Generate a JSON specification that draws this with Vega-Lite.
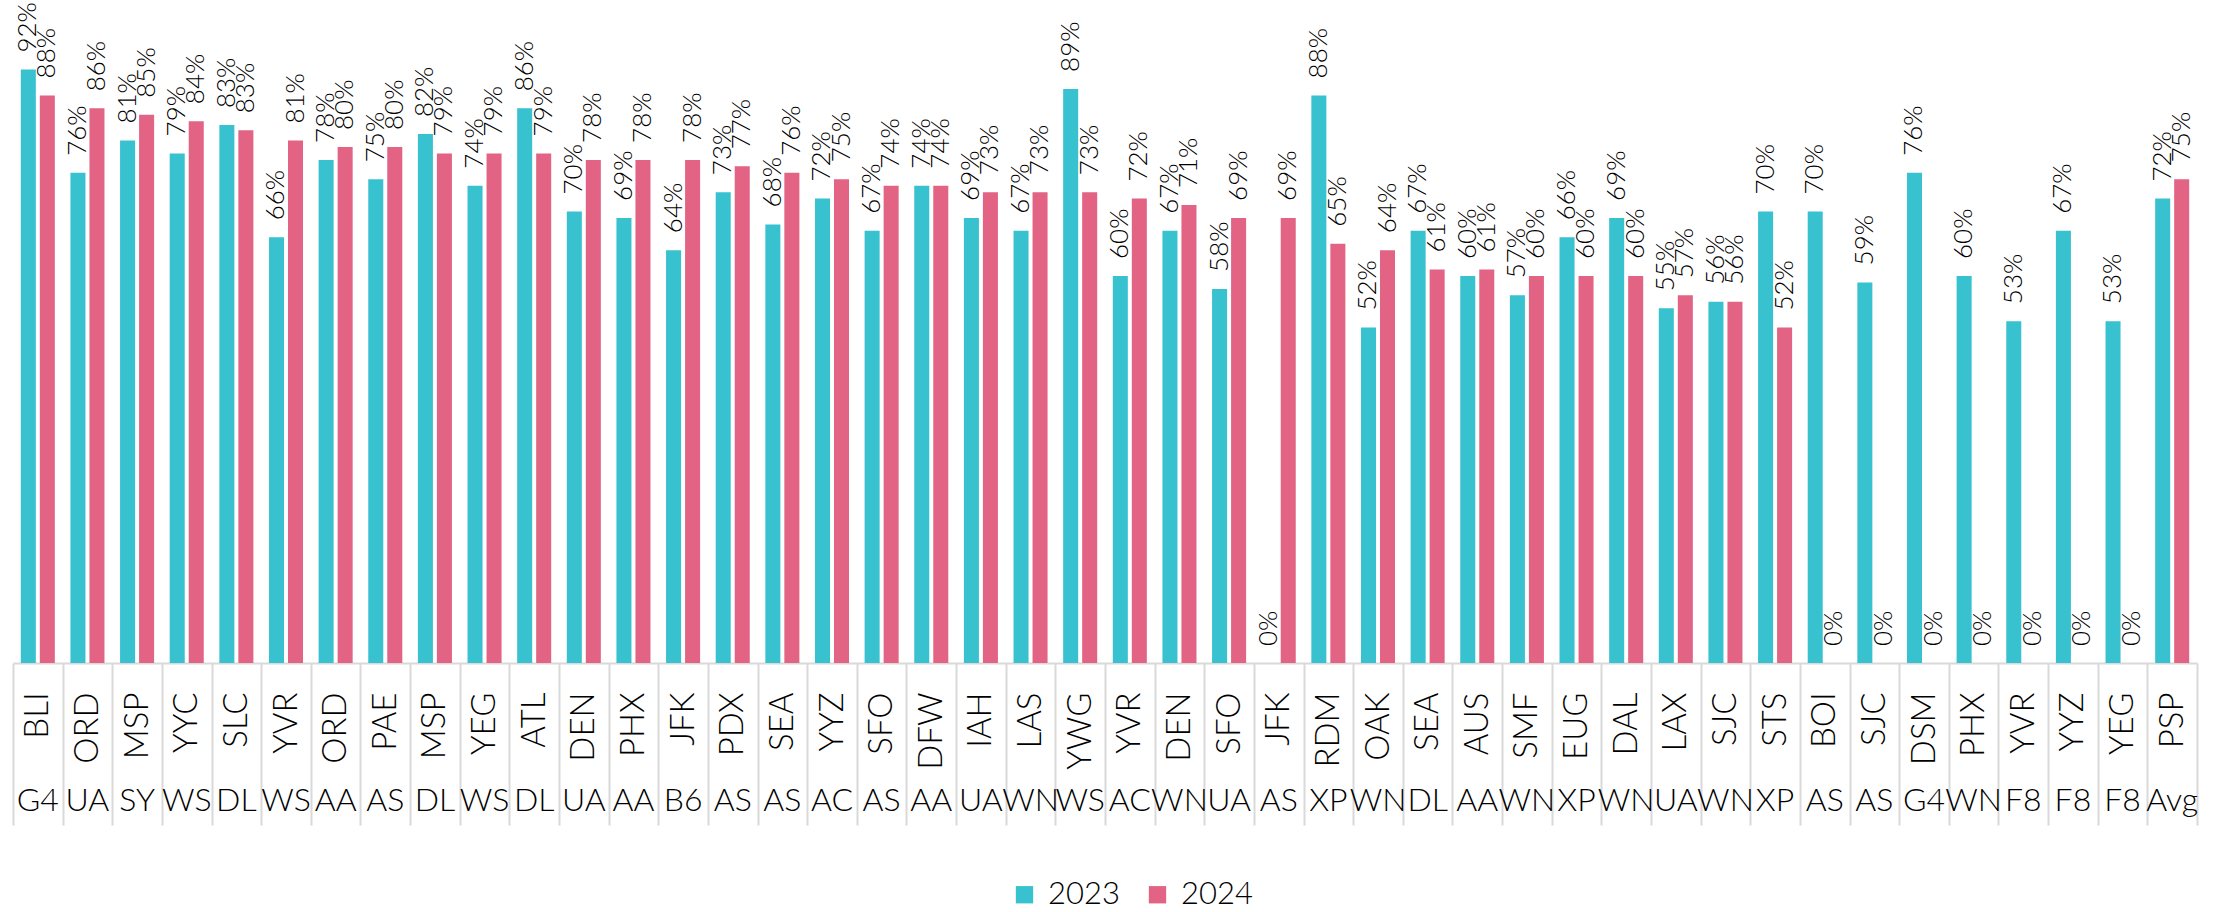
{
  "$schema": "https://vega.github.io/schema/vega-lite/v6.json",
  "width": 2184,
  "height": 645,
  "autosize": {"type": "none"},
  "padding": {"left": 13, "top": 18, "right": 24, "bottom": 249},
  "background": "white",
  "config": {
    "view": {"stroke": null},
    "font": "Lato",
    "axis": {"grid": false}
  },
  "data": {
    "values": [
      {"key": "BLI|G4", "2023": 0.92, "2024": 0.88},
      {"key": "ORD|UA", "2023": 0.76, "2024": 0.86},
      {"key": "MSP|SY", "2023": 0.81, "2024": 0.85},
      {"key": "YYC|WS", "2023": 0.79, "2024": 0.84},
      {"key": "SLC|DL", "2023": 0.834, "2024": 0.826},
      {"key": "YVR|WS", "2023": 0.66, "2024": 0.81},
      {"key": "ORD|AA", "2023": 0.78, "2024": 0.80},
      {"key": "PAE|AS", "2023": 0.75, "2024": 0.80},
      {"key": "MSP|DL", "2023": 0.82, "2024": 0.79},
      {"key": "YEG|WS", "2023": 0.74, "2024": 0.79},
      {"key": "ATL|DL", "2023": 0.86, "2024": 0.79},
      {"key": "DEN|UA", "2023": 0.70, "2024": 0.78},
      {"key": "PHX|AA", "2023": 0.69, "2024": 0.78},
      {"key": "JFK|B6", "2023": 0.64, "2024": 0.78},
      {"key": "PDX|AS", "2023": 0.73, "2024": 0.77},
      {"key": "SEA|AS", "2023": 0.68, "2024": 0.76},
      {"key": "YYZ|AC", "2023": 0.72, "2024": 0.75},
      {"key": "SFO|AS", "2023": 0.67, "2024": 0.74},
      {"key": "DFW|AA", "2023": 0.74, "2024": 0.74},
      {"key": "IAH|UA", "2023": 0.69, "2024": 0.73},
      {"key": "LAS|WN", "2023": 0.67, "2024": 0.73},
      {"key": "YWG|WS", "2023": 0.89, "2024": 0.73},
      {"key": "YVR|AC", "2023": 0.60, "2024": 0.72},
      {"key": "DEN|WN", "2023": 0.67, "2024": 0.71},
      {"key": "SFO|UA", "2023": 0.58, "2024": 0.69},
      {"key": "JFK|AS", "2023": 0.0, "2024": 0.69},
      {"key": "RDM|XP", "2023": 0.88, "2024": 0.65},
      {"key": "OAK|WN", "2023": 0.52, "2024": 0.64},
      {"key": "SEA|DL", "2023": 0.67, "2024": 0.61},
      {"key": "AUS|AA", "2023": 0.60, "2024": 0.61},
      {"key": "SMF|WN", "2023": 0.57, "2024": 0.60},
      {"key": "EUG|XP", "2023": 0.66, "2024": 0.60},
      {"key": "DAL|WN", "2023": 0.69, "2024": 0.60},
      {"key": "LAX|UA", "2023": 0.55, "2024": 0.57},
      {"key": "SJC|WN", "2023": 0.56, "2024": 0.56},
      {"key": "STS|XP", "2023": 0.70, "2024": 0.52},
      {"key": "BOI|AS", "2023": 0.70, "2024": 0.0},
      {"key": "SJC|AS", "2023": 0.59, "2024": 0.0},
      {"key": "DSM|G4", "2023": 0.76, "2024": 0.0},
      {"key": "PHX|WN", "2023": 0.60, "2024": 0.0},
      {"key": "YVR|F8", "2023": 0.53, "2024": 0.0},
      {"key": "YYZ|F8", "2023": 0.67, "2024": 0.0},
      {"key": "YEG|F8", "2023": 0.53, "2024": 0.0},
      {"key": "PSP|Avg", "2023": 0.72, "2024": 0.75}
    ]
  },
  "transform": [{"fold": ["2023", "2024"], "as": ["year", "value"]}],
  "encoding": {
    "xOffset": {"field": "year", "type": "nominal", "sort": ["2023", "2024"], "scale": {"paddingInner": 0.21, "paddingOuter": 0.41}},
    "y": {"field": "value", "type": "quantitative", "scale": {"domain": [0, 1], "nice": false, "zero": true}, "axis": null}
  },
  "layer": [
    {
      "mark": {"type": "bar"},
      "encoding": {
        "x": {
          "field": "key", "type": "nominal", "sort": null,
          "scale": {"paddingInner": 0, "paddingOuter": 0},
          "axis": {
            "orient": "bottom",
            "title": null,
            "labelExpr": "datum.value ? split(datum.value, '|')[0] : ''",
            "labelAngle": 270,
            "labelAlign": "right",
            "labelBaseline": "middle",
            "labelFont": "Lato",
            "labelFontWeight": 300,
            "labelFontSize": 33,
            "labelColor": "#000000",
            "labelPadding": -133,
            "labelOverlap": false,
            "labelBound": false,
            "ticks": true,
            "tickBand": "extent",
            "tickSize": 162,
            "tickColor": "#d9d9d9",
            "tickWidth": 2,
            "domain": true,
            "domainColor": "#d9d9d9",
            "domainWidth": 2
          }
        },
        "color": {
          "field": "year", "type": "nominal",
          "scale": {"domain": ["2023", "2024"], "range": ["#38C1CF", "#E26383"]},
          "legend": {
            "title": null,
            "orient": "none",
            "direction": "horizontal",
            "legendX": 996,
            "legendY": 861,
            "symbolType": "square",
            "symbolSize": 300,
            "symbolStrokeWidth": 0,
            "labelFont": "Lato",
            "labelFontWeight": 300,
            "labelFontSize": 31,
            "labelColor": "#000000",
            "labelOffset": 8,
            "columnPadding": 22,
            "padding": 0
          }
        }
      }
    },
    {
      "mark": {"type": "text", "angle": 270, "align": "left", "baseline": "middle", "dx": 17, "font": "Lato", "fontWeight": 300, "fontSize": 26, "color": "#000000"},
      "encoding": {
        "x": {
          "field": "key", "type": "nominal", "sort": null,
          "scale": {"paddingInner": 0, "paddingOuter": 0},
          "axis": {
            "orient": "bottom",
            "title": null,
            "labelExpr": "datum.value ? split(datum.value, '|')[1] : ''",
            "labelAngle": 0,
            "labelAlign": "center",
            "labelBaseline": "top",
            "labelFont": "Lato",
            "labelFontWeight": 300,
            "labelFontSize": 32,
            "labelColor": "#000000",
            "labelPadding": 122,
            "labelOverlap": false,
            "labelBound": false,
            "ticks": false,
            "tickSize": 0,
            "domain": false
          }
        },
        "text": {"field": "value", "type": "quantitative", "format": ".0%"}
      }
    }
  ],
  "resolve": {"axis": {"x": "independent"}}
}
